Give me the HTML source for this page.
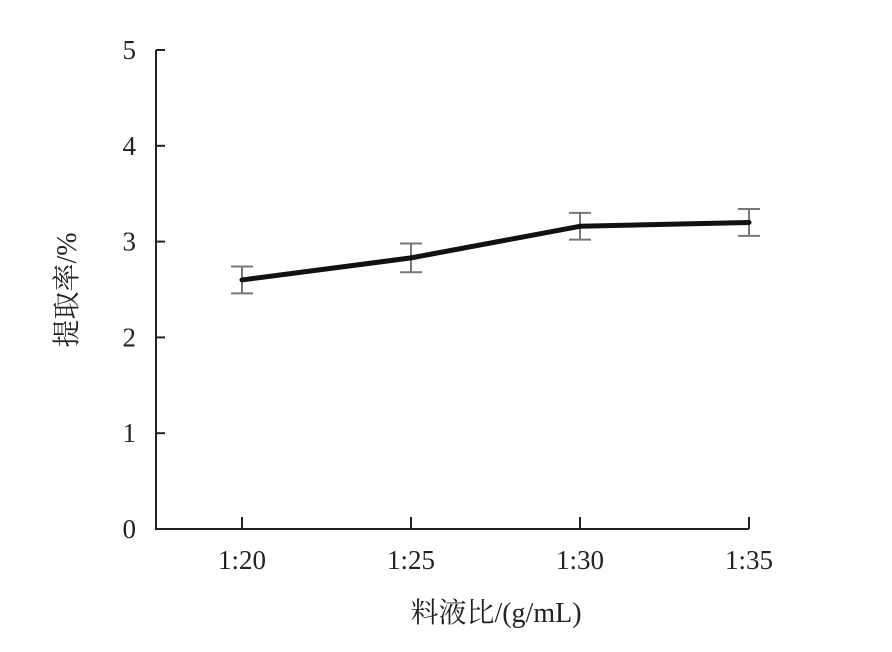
<!DOCTYPE html>
<html><head><meta charset="utf-8"><style>
body{margin:0;background:#fff;}
svg text{font-family:"Liberation Serif","Noto Serif CJK SC",serif;fill:#222;}
</style></head><body>
<svg width="892" height="647" id="chart"></svg>
<script>
const categories=["1:20","1:25","1:30","1:35"];
const values=[2.60,2.83,3.16,3.20];
const errors=[0.14,0.15,0.14,0.14];
const yTicks=[0,1,2,3,4,5];
const NS="http://www.w3.org/2000/svg";
const svg=document.getElementById('chart');
const x0=156,y0=529,yTop=50,xStep=169,xFirst=242;
const y=v=>y0-(v/5)*(y0-yTop);
const x=i=>xFirst+i*xStep;
function mk(t,a,p){const e=document.createElementNS(NS,t);for(const k in a)e.setAttribute(k,a[k]);(p||svg).appendChild(e);return e;}
const ax=mk('g',{});


mk('path',{d:`M${x0},${yTop} V${y0} H${x(categories.length-1)}`,fill:'none',stroke:'#222','stroke-width':2},ax);
yTicks.forEach(t=>{
  const l=mk('line',{x1:x0,x2:x0+9,y1:y(t),y2:y(t),stroke:'#222','stroke-width':2},ax);
  
  
  const tx=mk('text',{x:x0-20,y:y(t)+9,'text-anchor':'end','font-size':27},ax);
  tx.textContent=t;
  
  
});
categories.forEach((c,i)=>{
  const l=mk('line',{x1:x(i),x2:x(i),y1:y0,y2:y0-12,stroke:'#222','stroke-width':2},ax);
  
  
  const tx=mk('text',{x:x(i),y:y0+40,'text-anchor':'middle','font-size':27},ax);
  tx.textContent=c;
  
  
});
const eg=mk('g',{stroke:'#777','stroke-width':2});


values.forEach((v,i)=>{
  const a=y(v+errors[i]),b=y(v-errors[i]);
  const p=mk('path',{d:`M${x(i)},${a}V${b}M${x(i)-11},${a}H${x(i)+11}M${x(i)-11},${b}H${x(i)+11}`,fill:'none'},eg);
  
  
});
const line=mk('polyline',{points:values.map((v,i)=>x(i)+','+y(v)).join(' '),fill:'none',stroke:'#111','stroke-width':5,'stroke-linejoin':'round','stroke-linecap':'round'});


const yl=mk('text',{x:0,y:0,'font-size':28,'text-anchor':'middle',transform:'translate(76,290) rotate(-90)'});
yl.textContent='提取率/%';


const xl=mk('text',{x:496,y:622,'font-size':28,'text-anchor':'middle'});
xl.textContent='料液比/(g/mL)';


</script>
</body></html>
